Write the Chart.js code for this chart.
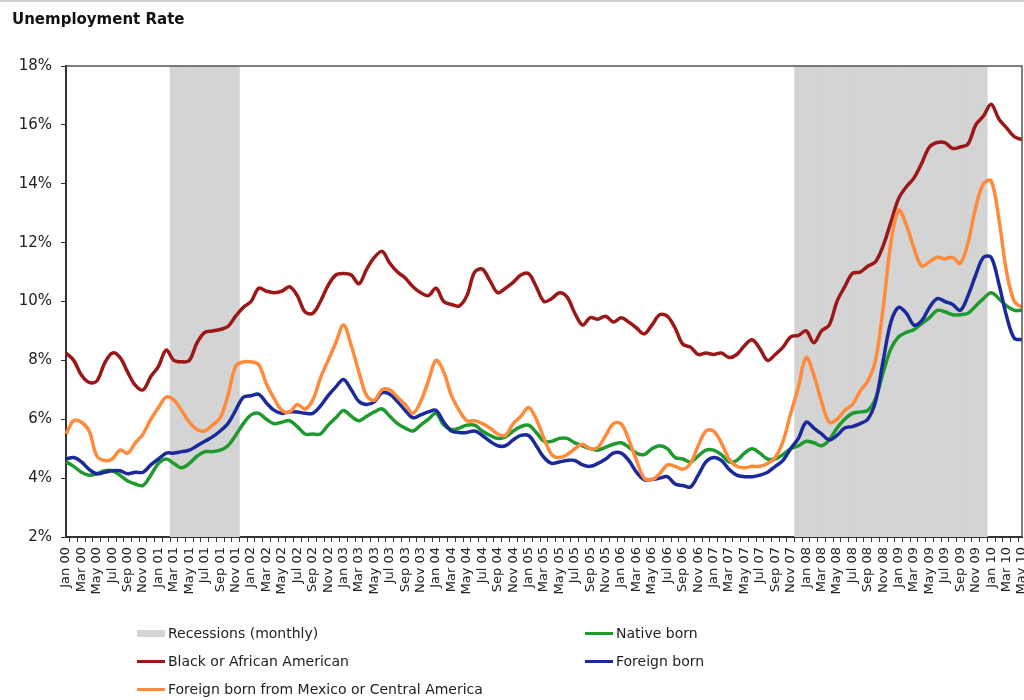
<!DOCTYPE html>
<html>
<head>
<meta charset="utf-8">
<script src="https://cdn.jsdelivr.net/npm/chart.js@4"></script>
<style>
  body { margin: 0; background: #fff; font-family: "DejaVu Sans", Verdana, sans-serif; }
  #wrap { position: relative; width: 1024px; height: 700px; border-top: 2px solid #cfcfcf; box-sizing: border-box; }
  #title { position: absolute; left: 12px; top: 8px; font-size: 15px; font-weight: bold; color: #111; }
  #legend { position: absolute; left: 137px; top: 622px; display: grid; grid-template-columns: 448px 300px; row-gap: 10px; font-size: 14px; color: #222; }
  .item { display: flex; align-items: center; height: 18px; }
  .sym { width: 28px; margin-right: 3px; }
</style>
</head>
<body>
<div id="wrap">
  <div id="title">Unemployment Rate</div>
  <canvas id="chart" width="1024" height="698"></canvas>
  <div id="legend"></div>
</div>
<script>
// monthly, Jan 2000 .. May 2010
const monthNames = ["Jan", "Feb", "Mar", "Apr", "May", "Jun", "Jul", "Aug", "Sep", "Oct", "Nov", "Dec"];
const months = [];
for (let y = 0; y <= 10; y++) {
    for (let m = 0; m < 12; m++) {
        if (y === 10 && m > 4) break;
        months.push(monthNames[m] + " " + String(y).padStart(2, "0"));
    }
}

const recessions = [["Mar 01", "Nov 01"], ["Dec 07", "Dec 09"]];

const nativeBorn = [
    4.55, 4.4, 4.2, 4.1, 4.15, 4.25, 4.25, 4.1, 3.9, 3.8, 3.75, 4.1,
    4.5, 4.65, 4.5, 4.35, 4.5, 4.75, 4.9, 4.9, 4.95, 5.1, 5.45, 5.85,
    6.15, 6.2, 6.0, 5.85, 5.9, 5.95, 5.75, 5.5, 5.5, 5.5, 5.8, 6.05,
    6.3, 6.1, 5.95, 6.1, 6.25, 6.35, 6.1, 5.85, 5.7, 5.6, 5.8, 6.0,
    6.2, 5.8, 5.65, 5.7, 5.8, 5.8, 5.6, 5.45, 5.35, 5.4, 5.6, 5.75,
    5.8, 5.55, 5.25, 5.25, 5.35, 5.35, 5.2, 5.1, 5.0, 4.95, 5.05, 5.15,
    5.2, 5.05, 4.85, 4.8, 5.0, 5.1, 5.0, 4.7, 4.65, 4.55, 4.75, 4.95,
    4.95, 4.8, 4.55, 4.6, 4.85, 5.0, 4.85, 4.65, 4.65, 4.8, 5.0, 5.1,
    5.25, 5.2, 5.1, 5.3, 5.7, 6.0, 6.2, 6.25, 6.3, 6.7, 7.6, 8.4,
    8.8, 8.95, 9.05, 9.25, 9.45, 9.7, 9.65, 9.55, 9.55, 9.6, 9.85, 10.1,
    10.3, 10.1, 9.85, 9.7, 9.7
];
const black = [
    8.25, 8.0, 7.5, 7.25, 7.3, 7.9, 8.25, 8.1, 7.6, 7.15, 7.0, 7.45,
    7.8, 8.35, 8.0, 7.95, 8.0, 8.6, 8.95, 9.0, 9.05, 9.15, 9.5, 9.8,
    10.0, 10.45, 10.35, 10.3, 10.35, 10.5, 10.2, 9.65, 9.6, 10.0, 10.55, 10.9,
    10.95, 10.9, 10.6, 11.1, 11.5, 11.7, 11.3, 11.0, 10.8, 10.5, 10.3, 10.2,
    10.45, 10.0, 9.9, 9.85, 10.2, 11.0, 11.1, 10.7, 10.3, 10.45, 10.65, 10.9,
    10.95, 10.5, 10.0, 10.1, 10.3, 10.15, 9.6, 9.2, 9.45, 9.4, 9.5, 9.3,
    9.45, 9.3, 9.1, 8.9, 9.2, 9.55, 9.5, 9.1, 8.55, 8.45, 8.2, 8.25,
    8.2, 8.25, 8.1, 8.2, 8.5, 8.7, 8.4, 8.0, 8.2, 8.45, 8.8, 8.85,
    9.0, 8.6, 9.0, 9.2, 10.0, 10.5, 10.95, 11.0, 11.2, 11.35, 11.9, 12.7,
    13.5, 13.9, 14.2, 14.7, 15.25, 15.4, 15.4, 15.2, 15.25, 15.35, 16.0, 16.3,
    16.7, 16.2, 15.9, 15.6, 15.5
];
const foreignBorn = [
    4.65, 4.7, 4.55, 4.3, 4.15, 4.2, 4.25, 4.25, 4.15, 4.2, 4.2, 4.45,
    4.65, 4.85, 4.85, 4.9, 4.95, 5.1, 5.25, 5.4, 5.6, 5.85, 6.3, 6.75,
    6.8, 6.85, 6.55, 6.3, 6.2, 6.25, 6.25, 6.2, 6.2, 6.45, 6.8, 7.1,
    7.35, 7.0, 6.6, 6.5, 6.6, 6.9, 6.85, 6.6, 6.3, 6.05, 6.15, 6.25,
    6.3, 5.9, 5.6, 5.55, 5.55, 5.6, 5.45, 5.25, 5.1, 5.1, 5.3, 5.45,
    5.45, 5.1, 4.7, 4.5, 4.55, 4.6, 4.6, 4.45, 4.4, 4.5, 4.65, 4.85,
    4.85, 4.6, 4.2, 3.95, 3.95, 4.0, 4.05, 3.8, 3.75, 3.7, 4.1, 4.55,
    4.7, 4.6, 4.3, 4.1, 4.05, 4.05, 4.1, 4.2, 4.4, 4.6, 5.0, 5.35,
    5.9, 5.7, 5.5, 5.3, 5.45, 5.7, 5.75, 5.85, 6.0, 6.6, 8.0, 9.3,
    9.8, 9.6, 9.2, 9.35, 9.8, 10.1, 10.0, 9.9, 9.7, 10.2, 10.9, 11.5,
    11.5, 10.6, 9.5, 8.75, 8.7
];
const mexicoCentral = [
    5.5, 5.95, 5.9, 5.6, 4.75, 4.6, 4.65, 4.95, 4.85, 5.2, 5.5, 6.0,
    6.4, 6.75, 6.65, 6.3, 5.9, 5.65, 5.6, 5.8, 6.05, 6.8, 7.8, 7.95,
    7.95, 7.85, 7.2, 6.7, 6.3, 6.25, 6.5, 6.35, 6.65, 7.4, 8.0, 8.6,
    9.2, 8.5, 7.6, 6.8, 6.65, 7.0, 7.0, 6.75, 6.5, 6.2, 6.6, 7.3,
    8.0, 7.6, 6.8, 6.3, 5.95, 5.95, 5.85, 5.7, 5.5, 5.45, 5.85, 6.1,
    6.4, 6.0, 5.35, 4.8, 4.7, 4.8, 5.0, 5.15, 5.0, 5.05, 5.45, 5.85,
    5.85, 5.3, 4.6, 4.0, 3.95, 4.15, 4.45, 4.4, 4.3, 4.5, 5.1, 5.6,
    5.6, 5.2, 4.65, 4.4, 4.35, 4.4, 4.4, 4.5, 4.7, 5.25, 6.2, 7.1,
    8.1, 7.5, 6.6, 5.9, 6.0, 6.3, 6.5, 6.95, 7.3, 8.0, 9.8, 12.0,
    13.1, 12.6, 11.8, 11.2, 11.35, 11.5, 11.45, 11.5, 11.3, 12.0, 13.2, 14.0,
    14.1, 12.8, 11.0, 10.0, 9.8
];

const yMin = 2, yMax = 18;

const recessionBars = months.map((m, i) =>
    recessions.some(([a, b]) => i >= months.indexOf(a) && i <= months.indexOf(b)) ? yMax : null
);

const lineStyle = {
    type: "line",
    borderWidth: 3.5,
    pointRadius: 0,
    tension: 0.35,
    fill: false,
};

// top and right edges of the plot box
const frame = {
    id: "frame",
    afterDatasetsDraw(chart) {
        const { ctx, chartArea: a } = chart;
        ctx.save();
        ctx.strokeStyle = "#555";
        ctx.lineWidth = 1.5;
        ctx.beginPath();
        ctx.moveTo(a.left, a.top);
        ctx.lineTo(a.right, a.top);
        ctx.lineTo(a.right, a.bottom);
        ctx.stroke();
        ctx.restore();
    },
};

const chart = new Chart(document.getElementById("chart").getContext("2d"), {
    type: "line",
    data: {
        labels: months,
        datasets: [
            {
                type: "bar",
                label: "Recessions (monthly)",
                data: recessionBars,
                backgroundColor: "#d4d4d4",
                borderWidth: 0,
                barPercentage: 1,
                categoryPercentage: 1,
                order: 10,
            },
            { ...lineStyle, label: "Native born", data: nativeBorn, borderColor: "#1f9a2f", order: 4 },
            { ...lineStyle, label: "Black or African American", data: black, borderColor: "#9c1717", order: 3 },
            { ...lineStyle, label: "Foreign born", data: foreignBorn, borderColor: "#1b2a9a", order: 2 },
            { ...lineStyle, label: "Foreign born from Mexico or Central America", data: mexicoCentral, borderColor: "#ff8a3c", order: 1 },
        ],
    },
    options: {
        responsive: false,
        animation: false,
        layout: { padding: { top: 64, left: 0, right: 2, bottom: 78 } },
        plugins: {
            legend: { display: false },
            tooltip: { enabled: false },
        },
        scales: {
            x: {
                type: "category",
                offset: false,
                grid: { display: true, drawOnChartArea: false, tickLength: 5, color: "#333" },
                border: { color: "#333", width: 2 },
                ticks: {
                    autoSkip: false,
                    minRotation: 90,
                    maxRotation: 90,
                    padding: 5,
                    color: "#222",
                    font: { family: "DejaVu Sans", size: 13 },
                    callback: (v, i) => (i % 2 === 0 ? months[i] : ""),
                },
                afterFit(s) {
                    s.height = 85;
                    s.paddingLeft = 0;
                    s.paddingRight = 0;
                },
            },
            y: {
                min: yMin,
                max: yMax,
                grid: { display: true, drawOnChartArea: false, tickLength: 5, color: "#333" },
                border: { color: "#333", width: 2 },
                ticks: {
                    stepSize: 2,
                    padding: 9,
                    color: "#222",
                    font: { family: "DejaVu Sans", size: 15 },
                    callback: (v) => v + "%",
                },
                afterFit(s) {
                    s.width = 66;
                    s.paddingTop = 0;
                    s.paddingBottom = 0;
                },
            },
        },
    },
    plugins: [frame],
});

// legend, two columns, filled row by row in dataset order
const legend = document.getElementById("legend");
chart.data.datasets.forEach((ds) => {
    const item = document.createElement("div");
    item.className = "item";
    const sym = document.createElement("span");
    sym.className = "sym";
    if (ds.type === "bar") {
        sym.style.height = "7px";
        sym.style.background = ds.backgroundColor;
    } else {
        sym.style.height = "3px";
        sym.style.background = ds.borderColor;
    }
    const txt = document.createElement("span");
    txt.textContent = ds.label;
    item.appendChild(sym);
    item.appendChild(txt);
    legend.appendChild(item);
});
</script>
</body>
</html>
